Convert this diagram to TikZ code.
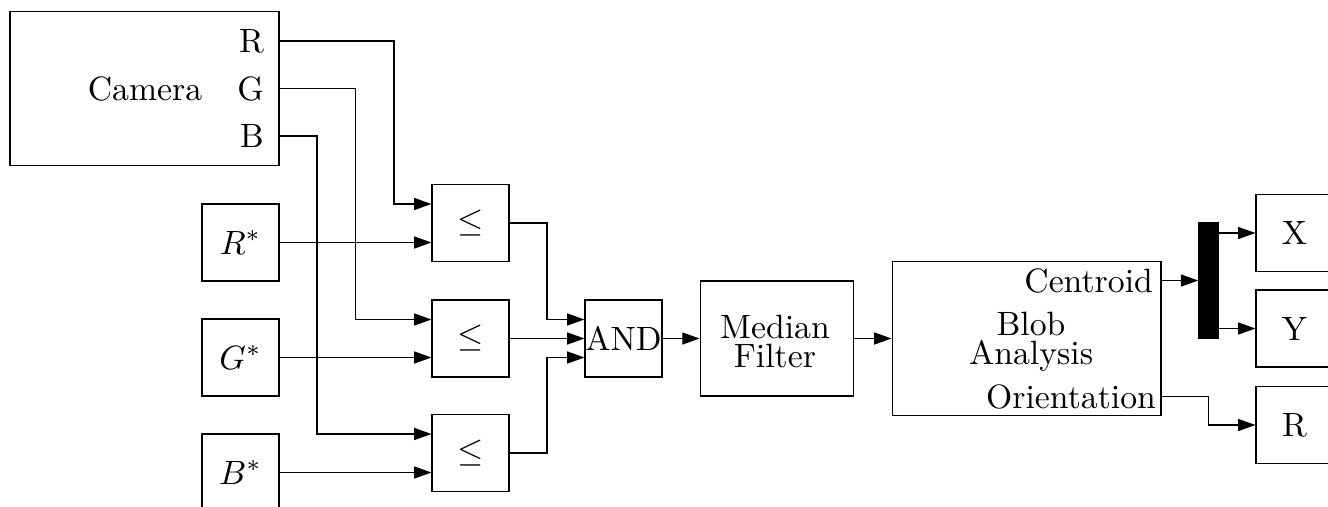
\documentclass[tikz,border=0pt]{standalone}
\usetikzlibrary{arrows.meta,calc}
\begin{document}
\begin{tikzpicture}[x=0.0104167cm, y=-0.0104167cm, line width=0.4pt,
  box/.style={draw, minimum width=0.8cm, minimum height=0.8cm, inner sep=0pt},
  bigbox/.style={draw, minimum width=2.8cm, minimum height=1.6cm, inner sep=0pt},
  conn/.style={-{Triangle[length=0.18cm,width=0.125cm]}},
  wire/.style={},
  plain/.style={inner sep=0pt}
  ]
\useasboundingbox (0,0) rectangle (1328,506);
\clip (0,0) rectangle (1328,506);

% camera
\node[bigbox] (cam) at (144.5,88.5) {};
\node[plain] (camtxt) at (145,89) {Camera};
\coordinate (camR) at ($(cam.east)+(0,-47.5)$);
\coordinate (camG) at (cam.east);
\coordinate (camB) at ($(cam.east)+(0,47.5)$);
\node[plain, anchor=east] (lR) at ($(camR)+(-15,0)$) {R};
\node[plain, anchor=east] (lG) at ($(camG)+(-15,0)$) {G};
\node[plain, anchor=east] (lB) at ($(camB)+(-15,0)$) {B};

% references
\node[box] (Rs) at (240.5,242.5) {$R^*$};
\node[box] (Gs) at (240.5,357.5) {$G^*$};
\node[box] (Bs) at (240.5,472.5) {$B^*$};

% comparators
\node[box] (le1) at (470.5,223) {$\leq$};
\node[box] (le2) at (470.5,338.5) {$\leq$};
\node[box] (le3) at (470.5,453) {$\leq$};

\node[box] (and) at (623.5,338.5) {AND};
\node[draw, minimum width=1.6cm, minimum height=1.2cm, inner sep=0pt] (med) at (777,338.5) {};
\node[plain, align=center] (medtxt) at (775,341) {Median\\[-3.4pt]Filter};

\node[bigbox] (blob) at (1026.5,338.5) {};
\node[plain, align=center] (blobtxt) at (1031,342) {Blob\\[-3.4pt]Analysis};
\coordinate (blobC) at ($(blob.east)+(0,-58)$);
\coordinate (blobO) at ($(blob.east)+(0,58)$);
\node[plain, anchor=east] (lC) at ($(blobC)+(-8,0)$) {Centroid};
\node[plain, anchor=east] (lO) at ($(blobO)+(-5,0)$) {Orientation};

\node[draw, fill=black, minimum width=0.2cm, minimum height=1.2cm, inner sep=0pt] (bar) at (1208.5,280.5) {};
\node[box] (X) at (1294.5,233) {X};
\node[box] (Y) at (1294.5,328.5) {Y};
\node[box] (Rout) at (1294.5,425) {R};

% inputs
\coordinate (le1a) at ($(le1.west)+(0,-19)$);
\coordinate (le1b) at ($(le1.west)+(0,19)$);
\coordinate (le2a) at ($(le2.west)+(0,-19)$);
\coordinate (le2b) at ($(le2.west)+(0,19)$);
\coordinate (le3a) at ($(le3.west)+(0,-19)$);
\coordinate (le3b) at ($(le3.west)+(0,19)$);
\coordinate (anda) at ($(and.west)+(0,-19)$);
\coordinate (andc) at ($(and.west)+(0,19)$);
\coordinate (jR) at (394,0);
\coordinate (jG) at (355.5,0);
\coordinate (jB) at (317,0);
\coordinate (jA) at (547,0);
\coordinate (barX) at ($(bar.east)+(0,-47.5)$);
\coordinate (barY) at ($(bar.east)+(0,48)$);

\draw[conn] (camR) -- (camR -| jR) |- (le1a);
\draw[conn] (camG) -- (camG -| jG) |- (le2a);
\draw[conn] (camB) -- (camB -| jB) |- (le3a);
\draw[conn] (Rs.east) -- (Rs.east -| le1b);
\draw[conn] (Gs.east) -- (Gs.east -| le2b);
\draw[conn] (Bs.east) -- (Bs.east -| le3b);

\draw[conn] (le1.east) -- (le1.east -| jA) |- (anda);
\draw[conn] (le2.east) -- (and.west);
\draw[conn] (le3.east) -- (le3.east -| jA) |- (andc);

\draw[conn] (and.east) -- (med.west);
\draw[conn] (med.east) -- (blob.west);
\draw[conn] (blobC) -- (blobC -| bar.west);
\draw[conn] (barX) -- (barX -| X.west);
\draw[conn] (barY) -- (barY -| Y.west);
\draw[conn] (blobO) -- (blobO -| bar.center) |- (Rout.west);
\end{tikzpicture}
\end{document}
